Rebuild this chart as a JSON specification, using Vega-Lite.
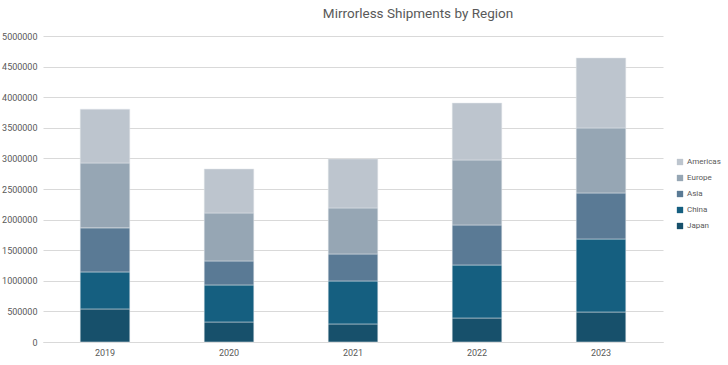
{
  "$schema": "https://vega.github.io/schema/vega-lite/v6.json",
  "width": 620,
  "height": 306,
  "autosize": {"type": "none"},
  "padding": {"left": 43, "top": 36, "right": 65, "bottom": 23},
  "background": "white",
  "title": {
    "text": "Mirrorless Shipments by Region",
    "anchor": "middle",
    "frame": "group",
    "dx": 65,
    "offset": 12,
    "fontSize": 13.5,
    "fontWeight": "normal",
    "font": "Roboto",
    "color": "#595959"
  },
  "data": {
    "values": [
      {"year": "2019", "region": "Japan", "rank": 1, "shipments": 540000},
      {"year": "2019", "region": "China", "rank": 2, "shipments": 605000},
      {"year": "2019", "region": "Asia", "rank": 3, "shipments": 720000},
      {"year": "2019", "region": "Europe", "rank": 4, "shipments": 1060000},
      {"year": "2019", "region": "Americas", "rank": 5, "shipments": 880000},
      {"year": "2020", "region": "Japan", "rank": 1, "shipments": 327000},
      {"year": "2020", "region": "China", "rank": 2, "shipments": 605000},
      {"year": "2020", "region": "Asia", "rank": 3, "shipments": 392000},
      {"year": "2020", "region": "Europe", "rank": 4, "shipments": 784000},
      {"year": "2020", "region": "Americas", "rank": 5, "shipments": 719000},
      {"year": "2021", "region": "Japan", "rank": 1, "shipments": 295000},
      {"year": "2021", "region": "China", "rank": 2, "shipments": 702000},
      {"year": "2021", "region": "Asia", "rank": 3, "shipments": 441000},
      {"year": "2021", "region": "Europe", "rank": 4, "shipments": 752000},
      {"year": "2021", "region": "Americas", "rank": 5, "shipments": 800000},
      {"year": "2022", "region": "Japan", "rank": 1, "shipments": 392000},
      {"year": "2022", "region": "China", "rank": 2, "shipments": 866000},
      {"year": "2022", "region": "Asia", "rank": 3, "shipments": 654000},
      {"year": "2022", "region": "Europe", "rank": 4, "shipments": 1062000},
      {"year": "2022", "region": "Americas", "rank": 5, "shipments": 931000},
      {"year": "2023", "region": "Japan", "rank": 1, "shipments": 490000},
      {"year": "2023", "region": "China", "rank": 2, "shipments": 1193000},
      {"year": "2023", "region": "Asia", "rank": 3, "shipments": 752000},
      {"year": "2023", "region": "Europe", "rank": 4, "shipments": 1062000},
      {"year": "2023", "region": "Americas", "rank": 5, "shipments": 1144000}
    ]
  },
  "mark": {"type": "bar", "stroke": "#e4e8ec", "strokeWidth": 0.5},
  "encoding": {
    "x": {
      "field": "year",
      "type": "ordinal",
      "scale": {"paddingInner": 0.6, "paddingOuter": 0.3},
      "axis": {
        "title": null,
        "labelAngle": 0,
        "ticks": false,
        "domainColor": "#d9d9d9",
        "labelColor": "#595959",
        "labelFontSize": 9,
        "labelFont": "Roboto",
        "labelPadding": 6
      }
    },
    "y": {
      "field": "shipments",
      "type": "quantitative",
      "stack": "zero",
      "scale": {"domain": [0, 5000000]},
      "axis": {
        "title": null,
        "values": [0, 500000, 1000000, 1500000, 2000000, 2500000, 3000000, 3500000, 4000000, 4500000, 5000000],
        "format": "d",
        "ticks": false,
        "domain": false,
        "gridColor": "#d9d9d9",
        "labelColor": "#595959",
        "labelFontSize": 9,
        "labelFont": "Roboto",
        "labelPadding": 6
      }
    },
    "color": {
      "field": "region",
      "type": "nominal",
      "scale": {
        "domain": ["Americas", "Europe", "Asia", "China", "Japan"],
        "range": ["#bdc5ce", "#96a6b4", "#5a7a95", "#155f80", "#17506b"]
      },
      "legend": {
        "title": null,
        "orient": "none",
        "legendX": 633,
        "legendY": 122,
        "symbolType": "square",
        "symbolSize": 40,
        "symbolStrokeWidth": 0,
        "labelFontSize": 8,
        "labelFont": "Roboto",
        "labelColor": "#595959",
        "rowPadding": 8,
        "labelOffset": 3
      }
    },
    "order": {"field": "rank", "type": "quantitative"}
  },
  "config": {"view": {"stroke": null}}
}
